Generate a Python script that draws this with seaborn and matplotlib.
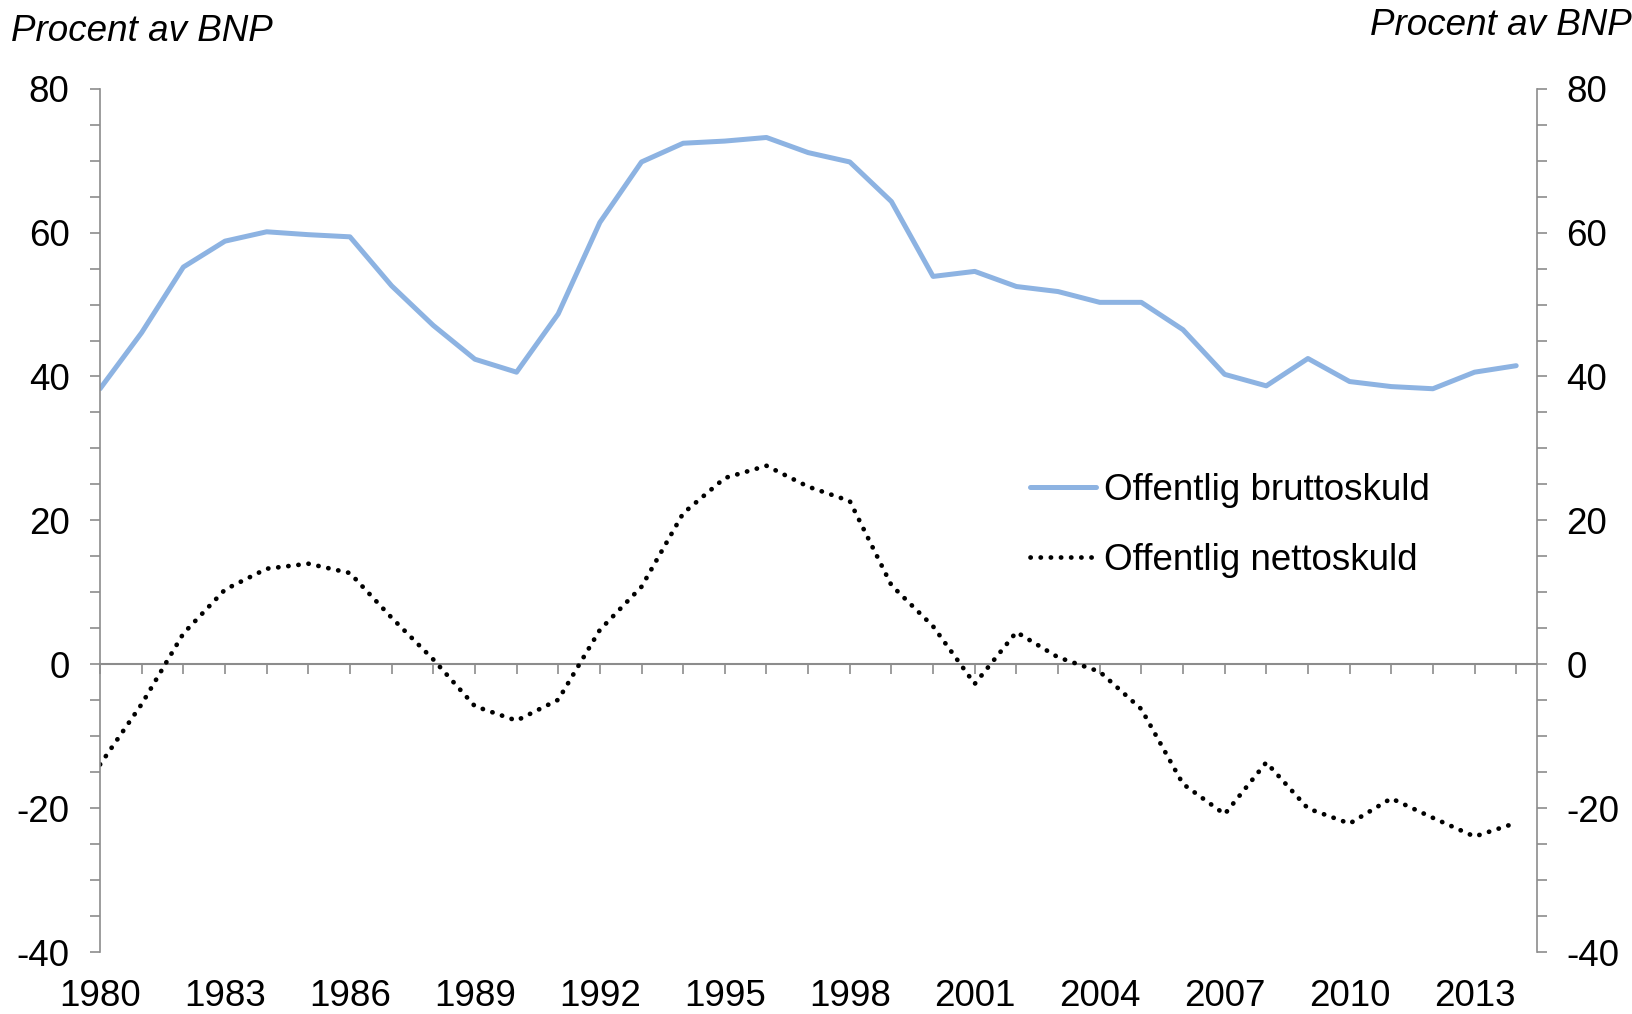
import numpy as np
import pandas as pd
import seaborn as sns
import matplotlib.pyplot as plt
from matplotlib.ticker import MultipleLocator

years = list(range(1980, 2015))
gross_debt = [38.3, 46.1, 55.2, 58.8, 60.1, 59.7, 59.4, 52.6, 47.1, 42.4,
              40.6, 48.7, 61.4, 69.8, 72.4, 72.7, 73.2, 71.1, 69.8, 64.3,
              53.9, 54.6, 52.5, 51.8, 50.3, 50.3, 46.5, 40.3, 38.7, 42.5,
              39.3, 38.6, 38.3, 40.6, 41.5]
net_debt = [-13.9, -5.5, 4.3, 10.4, 13.3, 14.0, 12.7, 6.5, 0.7, -5.8,
            -7.8, -4.9, 4.8, 10.8, 21.0, 25.9, 27.6, 24.7, 22.7, 11.0,
            5.3, -2.7, 4.5, 1.0, -1.0, -6.2, -16.6, -20.8, -13.6, -20.0,
            -22.1, -18.6, -21.3, -23.9, -22.0]
labels = ["Offentlig bruttoskuld", "Offentlig nettoskuld"]
unit_text = "Procent av BNP"

df = pd.DataFrame({"year": years, labels[0]: gross_debt, labels[1]: net_debt})

sns.set_style("white")
plt.rcParams['font.family'] = ['Liberation Sans', 'DejaVu Sans']
plt.rcParams['axes.unicode_minus'] = False
plt.rcParams['text.color'] = 'black'
plt.rcParams['xtick.labelcolor'] = 'black'
plt.rcParams['ytick.labelcolor'] = 'black'
fs = 26.5
axis_grey = "#8c8c8c"

fig = plt.figure(figsize=(16.32, 10.14), dpi=100)
ax = fig.add_axes([0.0613, 0.0607, 0.8805, 0.852])

sns.lineplot(data=df, x="year", y=labels[0], ax=ax, color="#8db3e2",
             linewidth=3.6, label=labels[0])
sns.lineplot(data=df, x="year", y=labels[1], ax=ax, color="black",
             linewidth=3.4, label=labels[1])
net_line = ax.get_lines()[1]
net_line.set_linestyle((0, (0.05, 2.1)))
net_line.set_dash_capstyle("round")

ax.set_xlim(1980, 2014.5)
ax.set_ylim(-40, 80)
ax.set_xlabel("")
ax.set_ylabel("")

# left axis
ax.yaxis.set_major_locator(MultipleLocator(20))
ax.yaxis.set_minor_locator(MultipleLocator(5))
ax.tick_params(axis="y", which="both", direction="out", length=7, width=1.2,
               color=axis_grey, labelsize=fs, pad=15, left=True)
for s in ["top", "right", "bottom"]:
    ax.spines[s].set_visible(False)
ax.spines["left"].set_color(axis_grey)
ax.spines["left"].set_linewidth(1.2)

# year labels at the bottom
ax.set_xticks(years[::3])
ax.tick_params(axis="x", length=0, labelsize=fs, pad=19)

# zero line with yearly ticks
zero_axis = ax.secondary_xaxis(1 / 3)
zero_axis.set_xticks(years)
zero_axis.tick_params(axis="x", direction="out", length=7, width=1.2,
                      color=axis_grey, labelbottom=False, labeltop=False)
zero_axis.spines["bottom"].set_color(axis_grey)
zero_axis.spines["bottom"].set_linewidth(1.5)

# right axis
ax_r = ax.twinx()
ax_r.set_ylim(-40, 80)
ax_r.yaxis.set_major_locator(MultipleLocator(20))
ax_r.yaxis.set_minor_locator(MultipleLocator(5))
ax_r.tick_params(axis="y", which="both", direction="out", length=7, width=1.2,
                 color=axis_grey, labelsize=fs, pad=14, right=True)
for s in ["top", "left", "bottom"]:
    ax_r.spines[s].set_visible(False)
ax_r.spines["right"].set_color(axis_grey)
ax_r.spines["right"].set_linewidth(1.2)
ax_r.grid(False)

leg = ax.legend(loc="upper left", bbox_to_anchor=(0.637, 0.572), frameon=False,
                fontsize=fs, handlelength=1.8, handletextpad=0.2,
                labelspacing=0.95, borderaxespad=0)

fig.text(0.007, 0.969, unit_text, fontsize=fs, style="italic", va="center", ha="left")
fig.text(1.0, 0.975, unit_text, fontsize=fs, style="italic", va="center", ha="right")

fig.savefig("out.png", dpi=100)
